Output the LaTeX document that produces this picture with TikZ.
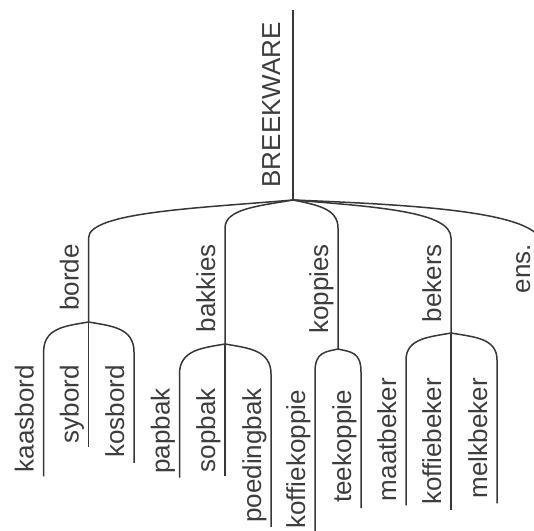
\documentclass[tikz,border=0pt]{standalone}
\usepackage{fontspec}
\setmainfont{Liberation Sans}
\usetikzlibrary{calc}
\begin{document}
\begin{tikzpicture}[x=1pt,y=-1pt,
  branch/.style={draw=black!78, line width=1.5pt},
  lbl/.style={rotate=90, anchor=base east, inner sep=0pt, text=black!76,
              font=\fontsize{26}{30}\selectfont},
]
\clip (0,0) rectangle (534,530);
\fill[white] (0,0) rectangle (534,530);

% ---- root ----
\coordinate (top) at (293,10);
\coordinate (R) at (293,200);
\node[lbl] (breekware) at (280,22) {BREEKWARE};
\draw[branch] (top) -- (R);

% ---- first level ----
\coordinate (bordeT) at (88.5,238);   \coordinate (bordeB) at (88.5,322);
\coordinate (bakT)   at (225,228);    \coordinate (bakB)   at (225,344);
\coordinate (kopT)   at (338,228);    \coordinate (kopB)   at (338,349);
\coordinate (bekT)   at (451,238);    \coordinate (bekB)   at (451,333);
\coordinate (ensT)   at (542,245);    \coordinate (ensB)   at (542,400);

\node[lbl] (borde)   at (78.5,244) {borde};
\node[lbl] (bakkies) at (215,244)  {bakkies};
\node[lbl] (koppies) at (328,244)  {koppies};
\node[lbl] (bekers)  at (441,244)  {bekers};
\node[lbl] (ens)     at (530,244)  {ens.};

\draw[branch] (R) .. controls (200,208) and (88.5,212) .. (bordeT) -- (bordeB);
\draw[branch] (R) .. controls (258,206) and (225,209) .. (bakT) -- (bakB);
\draw[branch] (R) .. controls (318,205) and (338,209) .. (kopT) -- (kopB);
\draw[branch] (R) .. controls (380,207) and (451,212) .. (bekT) -- (bekB);
\draw[branch] (R) .. controls (420,205) and (542,212) .. (ensT) -- (ensB);

% ---- leaves ----
\node[lbl] (kaasbord)     at (33.6,365) {kaasbord};
\node[lbl] (sybord)       at (78.5,365) {sybord};
\node[lbl] (kosbord)      at (124,365)  {kosbord};
\node[lbl] (papbak)       at (169.5,388) {papbak};
\node[lbl] (sopbak)       at (215,388)  {sopbak};
\node[lbl] (poedingbak)   at (261,388)  {poedingbak};
\node[lbl] (koffiekoppie) at (305,390)  {koffiekoppie};
\node[lbl] (teekoppie)    at (351,390)  {teekoppie};
\node[lbl] (maatbeker)    at (396,378)  {maatbeker};
\node[lbl] (koffiebeker)  at (441,378)  {koffiebeker};
\node[lbl] (melkbeker)    at (487,378)  {melkbeker};

\coordinate (kaasT) at (43.6,352);  \coordinate (kosT)  at (134,352);
\coordinate (papT)  at (179.5,374); \coordinate (poedT) at (271,374);
\coordinate (kofkT) at (315,372);   \coordinate (teeT)  at (361,372);
\coordinate (maatT) at (406,360);   \coordinate (melkT) at (497,360);

% borde
\draw[branch] (bordeB) .. controls (65,326) and (43.6,328) .. (kaasT)
  -- ($(kaasT |- kaasbord.west)+(0,4)$);
\draw[branch] (bordeB) -- ($(bordeB |- sybord.west)+(0,4)$);
\draw[branch] (bordeB) .. controls (112,326) and (134,328) .. (kosT)
  -- ($(kosT |- kosbord.west)+(0,5)$);
% bakkies
\draw[branch] (bakB) .. controls (202,348) and (179.5,350) .. (papT)
  -- ($(papT |- papbak.west)+(0,4)$);
\draw[branch] (bakB) -- ($(bakB |- sopbak.west)+(0,4)$);
\draw[branch] (bakB) .. controls (248,348) and (271,350) .. (poedT)
  -- ($(poedT |- poedingbak.west)+(0,4)$);
% koppies
\draw[branch] (kopB) .. controls (325,352) and (315,352) .. (kofkT)
  -- ($(kofkT |- koffiekoppie.west)+(0,8)$);
\draw[branch] (kopB) .. controls (351,352) and (361,352) .. (teeT)
  -- ($(teeT |- teekoppie.west)+(0,5)$);
% bekers
\draw[branch] (bekB) .. controls (430,337) and (406,338) .. (maatT)
  -- ($(maatT |- maatbeker.west)+(0,4)$);
\draw[branch] (bekB) -- ($(bekB |- koffiebeker.west)+(0,5)$);
\draw[branch] (bekB) .. controls (474,337) and (497,338) .. (melkT)
  -- ($(melkT |- melkbeker.west)+(0,5)$);
\end{tikzpicture}
\end{document}
